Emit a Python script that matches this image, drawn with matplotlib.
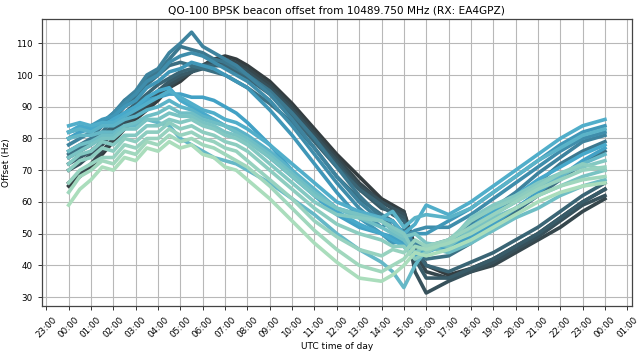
import numpy as np
import matplotlib
matplotlib.use("Agg")
import matplotlib.pyplot as plt
from matplotlib.ticker import MultipleLocator, FuncFormatter
import seaborn as sns

# sample times (hours UTC)
hours = [0, 0.5, 1, 1.5, 2, 2.5, 3, 3.5, 4, 4.5, 5, 5.5, 6, 6.5, 7, 7.5, 8,
         9, 10, 11, 12, 13, 14, 14.5, 15, 15.5, 16, 17, 18, 19, 20, 21, 22, 23, 24]

# offsets (Hz) per day, ordered light -> dark colour
day00 = [59, 64, 67, 71, 70, 74, 73, 77, 76, 79, 77, 78, 75, 74, 71, 70, 67, 61, 54, 47, 41, 36, 35, 37, 40, 44, 43, 45, 48, 52, 56, 60, 63, 65, 66]
day01 = [63, 68, 70, 73, 72, 76, 75, 79, 78, 81, 79, 80, 78, 77, 75, 73, 71, 65, 58, 51, 45, 40, 38, 40, 42, 46, 45, 47, 50, 54, 58, 62, 65, 67, 68]
day02 = [66, 70, 72, 74, 74, 78, 77, 80, 80, 83, 81, 82, 80, 79, 77, 76, 73, 67, 61, 54, 49, 45, 43, 45, 44, 48, 46, 48, 52, 56, 60, 64, 67, 70, 71]
day03 = [70, 73, 74, 77, 76, 80, 79, 82, 82, 85, 83, 84, 82, 81, 79, 78, 76, 70, 64, 58, 53, 50, 48, 46, 46, 42, 44, 48, 54, 58, 61, 65, 69, 72, 70]
day04 = [72, 75, 76, 79, 78, 81, 81, 84, 84, 86, 85, 86, 84, 83, 81, 80, 78, 72, 66, 60, 56, 55, 54, 52, 50, 44, 46, 47, 55, 59, 62, 66, 69, 71, 73]
day05 = [74, 76, 78, 80, 80, 83, 83, 86, 86, 88, 87, 87, 85, 84, 82, 81, 79, 74, 68, 62, 58, 56, 54, 51, 49, 50, 47, 46, 51, 55, 58, 62, 65, 68, 70]
day06 = [76, 78, 79, 81, 81, 84, 85, 87, 88, 90, 88, 88, 86, 85, 84, 82, 80, 75, 69, 63, 58, 55, 52, 50, 48, 44, 46, 44, 47, 51, 55, 58, 62, 65, 67]
day07 = [80, 81, 81, 82, 82, 84, 84, 86, 85, 84, 80, 78, 76, 74, 73, 72, 70, 66, 61, 56, 50, 45, 41, 38, 33, 40, 45, 48, 52, 56, 60, 64, 68, 72, 75]
day08 = [82, 83, 82, 84, 84, 86, 87, 89, 90, 92, 90, 89, 87, 86, 84, 83, 81, 76, 70, 64, 58, 56, 55, 57, 52, 55, 56, 55, 58, 63, 68, 73, 77, 81, 83]
day09 = [84, 85, 84, 85, 85, 87, 89, 91, 93, 95, 93, 91, 89, 88, 86, 85, 83, 78, 72, 66, 60, 57, 55, 54, 50, 53, 59, 56, 60, 65, 70, 75, 80, 84, 86]
day10 = [82, 84, 83, 84, 86, 88, 90, 93, 95, 96, 92, 90, 88, 86, 84, 82, 80, 74, 68, 62, 57, 53, 50, 48, 46, 42, 44, 47, 52, 57, 62, 67, 71, 75, 78]
day11 = [80, 82, 83, 84, 86, 88, 90, 92, 93, 94, 94, 93, 93, 92, 90, 88, 85, 78, 70, 62, 56, 52, 50, 49, 47, 43, 45, 46, 49, 53, 58, 63, 68, 73, 77]
day12 = [82, 83, 84, 86, 87, 90, 92, 96, 98, 101, 102, 104, 103, 102, 100, 98, 96, 89, 81, 72, 63, 55, 50, 47, 48, 50, 50, 54, 58, 63, 68, 73, 78, 82, 84]
day13 = [80, 82, 84, 85, 88, 91, 94, 98, 100, 104, 106, 107, 106, 104, 102, 100, 98, 92, 84, 75, 66, 58, 52, 54, 49, 51, 52, 52, 56, 61, 66, 71, 76, 80, 82]
day14 = [78, 80, 82, 85, 88, 92, 95, 100, 102, 107, 110, 113.5, 109, 107, 105, 103, 100, 94, 86, 77, 68, 60, 54, 52, 50, 47, 46, 48, 53, 58, 63, 69, 74, 79, 81]
day15 = [76, 78, 80, 84, 87, 92, 94, 99, 101, 105, 109, 108, 107, 105, 104, 102, 100, 95, 88, 80, 71, 62, 55, 52, 51, 46, 45, 46, 51, 56, 61, 66, 72, 76, 79]
day16 = [75, 77, 79, 82, 86, 90, 93, 97, 100, 103, 104, 103, 102, 101, 100, 98, 96, 91, 85, 77, 68, 61, 56, 54, 50, 44, 42, 43, 47, 52, 57, 62, 67, 72, 76]
day17 = [74, 76, 78, 81, 84, 88, 91, 94, 97, 99, 101, 102, 103, 103, 103, 101, 99, 94, 87, 79, 71, 64, 59, 56, 54, 45, 40, 38, 41, 44, 48, 52, 57, 62, 66]
day18 = [72, 74, 76, 79, 83, 86, 89, 92, 95, 98, 100, 101, 102, 103, 103, 102, 100, 95, 88, 80, 72, 64, 58, 57, 55, 42, 36, 36, 39, 42, 46, 50, 55, 60, 64]
day19 = [70, 72, 75, 78, 82, 85, 88, 91, 94, 97, 99, 101, 103, 104, 104, 103, 101, 96, 89, 81, 73, 65, 60, 58, 56, 38, 31.3, 35, 38, 41, 45, 49, 54, 59, 62]
day20 = [66, 69, 72, 76, 80, 84, 87, 90, 93, 96, 99, 101, 103, 105, 105, 104, 102, 97, 90, 82, 74, 66, 60, 58, 57, 44, 38, 36, 38, 40, 44, 48, 52, 57, 61]
day21 = [65, 68, 71, 75, 79, 83, 86, 89, 92, 96, 98, 101, 103, 105, 106, 105, 103, 98, 91, 83, 75, 68, 61, 59, 57, 46, 40, 37, 39, 42, 46, 50, 55, 60, 64]

days = [day00, day01, day02, day03, day04, day05, day06, day07, day08, day09, day10,
        day11, day12, day13, day14, day15, day16, day17, day18, day19, day20, day21]

colors = sns.color_palette("GnBu_d", len(days))

fig = plt.figure(figsize=(6.44, 3.55), dpi=100)
ax = fig.add_axes([0.065, 0.138, 0.916, 0.808])

# dark days first so the light ones sit on top
for vals, col in reversed(list(zip(days, colors))):
    ax.plot(hours, vals, color=col, lw=2.6, solid_joinstyle="round")

ax.xaxis.set_major_locator(MultipleLocator(1))
ax.xaxis.set_major_formatter(FuncFormatter(lambda h, p: f"{int(round(h)) % 24:02d}:00"))
ax.yaxis.set_major_locator(MultipleLocator(10))
ax.grid(True, color="#b8b8b8", lw=0.8)
ax.set_axisbelow(True)

ax.tick_params(labelsize=6.3, length=3, width=0.7, color="#333333")
plt.setp(ax.get_xticklabels(), rotation=45)
for s in ax.spines.values():
    s.set_color("#444444")
    s.set_linewidth(0.9)

ax.set_title("QO-100 BPSK beacon offset from 10489.750 MHz (RX: EA4GPZ)", fontsize=7.6, pad=4)
ax.set_xlabel("UTC time of day", fontsize=6.5, labelpad=2)
ax.set_ylabel("Offset (Hz)", fontsize=6.5, labelpad=4)

fig.savefig("out.png", dpi=100)
